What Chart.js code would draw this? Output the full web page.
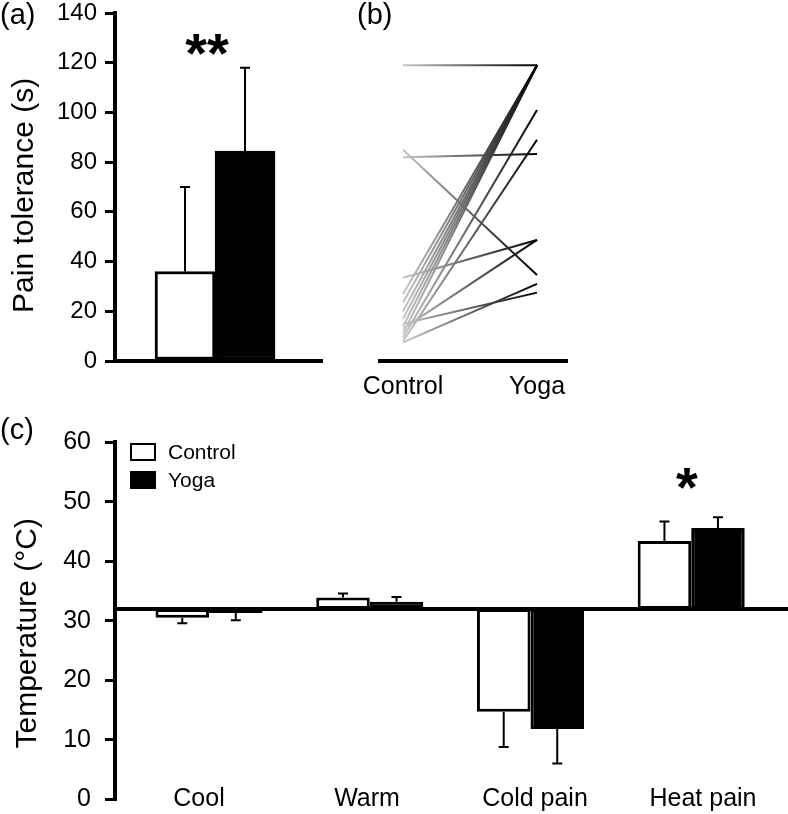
<!DOCTYPE html>
<html>
<head>
<meta charset="utf-8">
<script src="https://cdn.jsdelivr.net/npm/chart.js@4.4.1/dist/chart.umd.min.js"></script>
<style>
  html, body { margin: 0; padding: 0; background: #fff; }
  #wrap { position: relative; width: 788px; height: 814px; overflow: hidden;
          font-family: 'Liberation Sans', Arial, sans-serif; color: #000; }
  canvas { position: absolute; }
  .txt { position: absolute; white-space: nowrap; }
  .panel { font-size: 29px; line-height: 30px; }
  .star { font-size: 56px; line-height: 56px; font-weight: bold; text-align: center; width: 100px; }
  .lgbox { position: absolute; width: 22px; height: 14px; border: 2px solid #000; }
  .lgtxt { position: absolute; font-size: 21px; line-height: 24px; }
</style>
</head>
<body>
<div id="wrap">
  <canvas id="chartA" width="330" height="400" style="left:0;top:0"></canvas>
  <canvas id="chartB" width="250" height="400" style="left:340px;top:0"></canvas>
  <canvas id="chartC" width="788" height="424" style="left:0;top:390px"></canvas>
  <div class="txt panel" style="left:0;top:-1px">(a)</div>
  <div class="txt panel" style="left:357px;top:-1px">(b)</div>
  <div class="txt panel" style="left:0;top:414px">(c)</div>
  <div class="txt star" style="left:157px;top:25px">**</div>
  <div class="txt star" style="left:637px;top:459px">*</div>
  <div id="legend"></div>
</div>
<script>
Chart.defaults.font.family = "'Liberation Sans', Arial, sans-serif";
Chart.defaults.color = '#000';
Chart.defaults.animation = false;

// (a) pain tolerance, mean bars with upper error
const aGroups = ['Control', 'Yoga'];
const aMeans = [36, 84.5];
const aErrTop = [70, 118];
const aTicks = [0, 20, 40, 60, 80, 100, 120, 140];

// (b) individual subjects, control -> yoga
const bLabels = ['Control', 'Yoga'];
const bControl = [119, 82, 85, 33.5, 27, 23.5, 20, 17, 14, 11, 9.5, 8, 13, 7.5, 15];
const bYoga = [119, 83.3, 34.6, 48.7, 119, 119, 119, 119, 119, 119, 101, 89, 48.7, 31, 27.5];

// (c) thresholds, bars from the 32 degC baseline
const cCats = ['Cool', 'Warm', 'Cold pain', 'Heat pain'];
const cSeries = ['Control', 'Yoga'];
const cBase = 32;
const cControl = [30.5, 33.9, 14.7, 43.4];
const cYoga = [31.3, 33.2, 11.8, 45.6];
const cControlErr = [29.6, 34.6, 8.8, 46.7];
const cYogaErr = [30.1, 34.0, 6.0, 47.4];
const cTicks = [0, 10, 20, 30, 40, 50, 60];

// one-sided error bars: from the bar end (ds.ends) out to ds.errEnds
const errorBars = {
  id: 'errorBars',
  afterDatasetsDraw(chart) {
    const ctx = chart.ctx;
    const yScale = chart.scales.y;
    chart.data.datasets.forEach((ds, i) => {
      if (!ds.errEnds) return;
      chart.getDatasetMeta(i).data.forEach((bar, j) => {
        const sy = yScale.getPixelForValue(ds.ends[j]);
        const ey = yScale.getPixelForValue(ds.errEnds[j]);
        ctx.save();
        ctx.strokeStyle = '#000';
        ctx.lineWidth = 2;
        ctx.beginPath();
        ctx.moveTo(bar.x, sy);
        ctx.lineTo(bar.x, ey);
        ctx.moveTo(bar.x - 5, ey);
        ctx.lineTo(bar.x + 5, ey);
        ctx.stroke();
        ctx.restore();
      });
    });
  }
};

// y axis: black border, outside tick marks, tiny label line height so the labels add no padding
const yAxisStyle = (ticks, pad, size) => ({
  afterBuildTicks: (s) => { s.ticks = ticks.map(v => ({ value: v })); },
  ticks: { font: { size: size, lineHeight: 0.01 }, padding: pad, color: '#000' },
  grid: { drawOnChartArea: false, color: '#000', lineWidth: 3, tickLength: 10 },
  border: { color: '#000', width: 4 }
});

// ---- (a)
new Chart(document.getElementById('chartA'), {
  type: 'bar',
  data: {
    datasets: [{
      data: aMeans.map((v, i) => ({ x: i, y: v })),
      ends: aMeans,
      errEnds: aErrTop,
      backgroundColor: ['#fff', '#000'],
      borderColor: '#000',
      borderWidth: 3,
      borderSkipped: false,
      barPercentage: 1,
      categoryPercentage: 1
    }]
  },
  options: {
    responsive: false,
    layout: { padding: { left: 0, top: 13, right: 8, bottom: 0 } },
    plugins: { legend: { display: false }, tooltip: { enabled: false } },
    scales: {
      x: {
        type: 'linear', min: -1.167, max: 2.283, offset: false,
        ticks: { display: false, stepSize: 1, includeBounds: false },
        grid: { display: false, drawTicks: false },
        border: { color: '#000', width: 4 },
        afterFit: (s) => { s.height = 39; }
      },
      y: Object.assign(yAxisStyle(aTicks, 8, 24), {
        min: 0, max: 140,
        title: { display: true, text: 'Pain tolerance (s)  ', font: { size: 30 }, padding: { top: 7, bottom: 0 } },
        afterFit: (s) => { s.width = 115; }
      })
    }
  },
  plugins: [errorBars]
});

// ---- (b)
const fadeLine = (c) => {
  const chart = c.chart;
  if (!chart.chartArea) return '#777';
  const xs = chart.scales.x;
  const g = chart.ctx.createLinearGradient(xs.getPixelForValue(0), 0, xs.getPixelForValue(1), 0);
  g.addColorStop(0, '#c6c6c6');
  g.addColorStop(1, '#000');
  return g;
};

new Chart(document.getElementById('chartB'), {
  type: 'line',
  data: {
    datasets: bControl.map((c, i) => ({
      data: [{ x: 0, y: c }, { x: 1, y: bYoga[i] }],
      borderColor: fadeLine,
      borderWidth: 2,
      pointRadius: 0,
      tension: 0
    }))
  },
  options: {
    responsive: false,
    layout: { padding: { left: 40, top: 13, right: 23, bottom: 0 } },
    plugins: { legend: { display: false }, tooltip: { enabled: false } },
    scales: {
      x: {
        type: 'linear', min: -0.1716, max: 1.2239, offset: false,
        ticks: { font: { size: 25 }, padding: 11, maxRotation: 0, stepSize: 1, includeBounds: false,
                 callback: (v) => bLabels[v] },
        grid: { display: false, drawTicks: false },
        border: { color: '#000', width: 4 },
        afterFit: (s) => { s.height = 39; }
      },
      y: { display: false, min: 0, max: 140 }
    }
  }
});

// ---- (c)
new Chart(document.getElementById('chartC'), {
  type: 'bar',
  data: {
    labels: cCats,
    datasets: [
      {
        label: cSeries[0],
        xAxisID: 'xb',
        data: cControl.map((v, i) => ({ x: i, y: [cBase, v] })),
        ends: cControl,
        errEnds: cControlErr,
        backgroundColor: '#fff',
        borderColor: '#000',
        borderWidth: 3,
        borderSkipped: false
      },
      {
        label: cSeries[1],
        xAxisID: 'xb',
        data: cYoga.map((v, i) => ({ x: i, y: [cBase, v] })),
        ends: cYoga,
        errEnds: cYogaErr,
        backgroundColor: '#000',
        borderColor: '#000',
        borderWidth: 3,
        borderSkipped: false
      }
    ]
  },
  options: {
    responsive: false,
    datasets: { bar: { barPercentage: 1, categoryPercentage: 0.666 } },
    layout: { padding: { left: 0, top: 52.3, right: 1, bottom: 14.7 } },
    plugins: { legend: { display: false }, tooltip: { enabled: false } },
    scales: {
      x: {
        type: 'category', offset: true, position: { y: 0 },
        ticks: { font: { size: 25 }, padding: -15, maxRotation: 0, autoSkip: false },
        grid: { display: false, drawTicks: false },
        border: { display: false }
      },
      xb: {
        type: 'linear', position: { y: cBase }, min: -0.585, max: 3.596, offset: false,
        ticks: { display: false, stepSize: 1, includeBounds: false },
        grid: { display: false, drawTicks: false, lineWidth: 4 },
        border: { color: '#000', width: 4 }
      },
      y: Object.assign(yAxisStyle(cTicks, 14, 25), {
        min: 0, max: 60,
        title: { display: true, text: 'Temperature (°C)   ', font: { size: 30 }, padding: { top: 10, bottom: 0 } },
        afterFit: (s) => { s.width = 115; }
      })
    }
  },
  plugins: [errorBars]
});

// legend for (c), boxes styled like the bars
const legend = document.getElementById('legend');
const lgFill = ['#fff', '#000'];
cSeries.forEach((name, i) => {
  const top = 443 + i * 28;
  const box = document.createElement('div');
  box.className = 'lgbox';
  box.style.left = '130px';
  box.style.top = top + 'px';
  box.style.background = lgFill[i];
  legend.appendChild(box);
  const t = document.createElement('div');
  t.className = 'lgtxt';
  t.style.left = '168px';
  t.style.top = (top - 3) + 'px';
  t.textContent = name;
  legend.appendChild(t);
});
</script>
</body>
</html>
